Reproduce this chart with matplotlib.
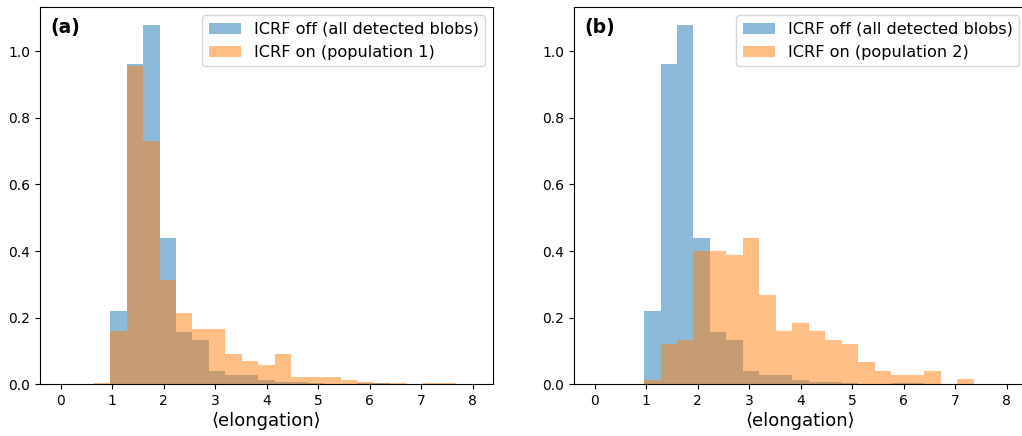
import matplotlib
matplotlib.use("Agg")
import matplotlib.pyplot as plt
import numpy as np

# common bin edges of elongation (26 edges between 0 and 8)
bin_edges = np.linspace(0, 8, 26)

# normalised counts per bin
icrf_off = [0, 0, 0, 0.221, 0.961, 1.078, 0.440, 0.156, 0.132, 0.040, 0.028, 0.028,
            0.013, 0.008, 0.007, 0.003, 0, 0, 0.003, 0.003, 0, 0, 0, 0, 0]
pop1 = [0, 0, 0.005, 0.159, 0.956, 0.731, 0.314, 0.213, 0.165, 0.165, 0.091, 0.069,
        0.058, 0.092, 0.021, 0.021, 0.021, 0.013, 0.007, 0.004, 0.004, 0, 0.004, 0.004, 0]
pop2 = [0, 0, 0, 0.013, 0.120, 0.132, 0.399, 0.400, 0.388, 0.440, 0.267, 0.159,
        0.184, 0.159, 0.133, 0.121, 0.068, 0.041, 0.027, 0.027, 0.041, 0, 0.015, 0, 0]

label_off = "ICRF off (all detected blobs)"
labels_on = ["ICRF on (population 1)", "ICRF on (population 2)"]
panel_tags = ["(a)", "(b)"]

bin_centers = 0.5 * (bin_edges[:-1] + bin_edges[1:])

fig = plt.figure(figsize=(10.22, 4.36), dpi=100)
ax_a = fig.add_axes([0.0392, 0.1186, 0.4433, 0.8647])
ax_b = fig.add_axes([0.5617, 0.1186, 0.4433, 0.8647])

for ax, pop, lab, tag in zip([ax_a, ax_b], [pop1, pop2], labels_on, panel_tags):
    ax.hist(bin_centers, bins=bin_edges, weights=icrf_off, alpha=0.5, label=label_off)
    ax.hist(bin_centers, bins=bin_edges, weights=pop, alpha=0.5, label=lab)
    ax.set_xticks(range(0, 9))
    ax.tick_params(labelsize=10)
    ax.set_xlabel("⟨elongation⟩", fontsize=13, labelpad=3)
    ax.legend(loc="upper right", fontsize=11.6)
    ax.text(0.022, 0.972, tag, transform=ax.transAxes, va="top", ha="left",
            fontsize=13.5, fontweight="bold")

fig.savefig("out.png", dpi=100)
